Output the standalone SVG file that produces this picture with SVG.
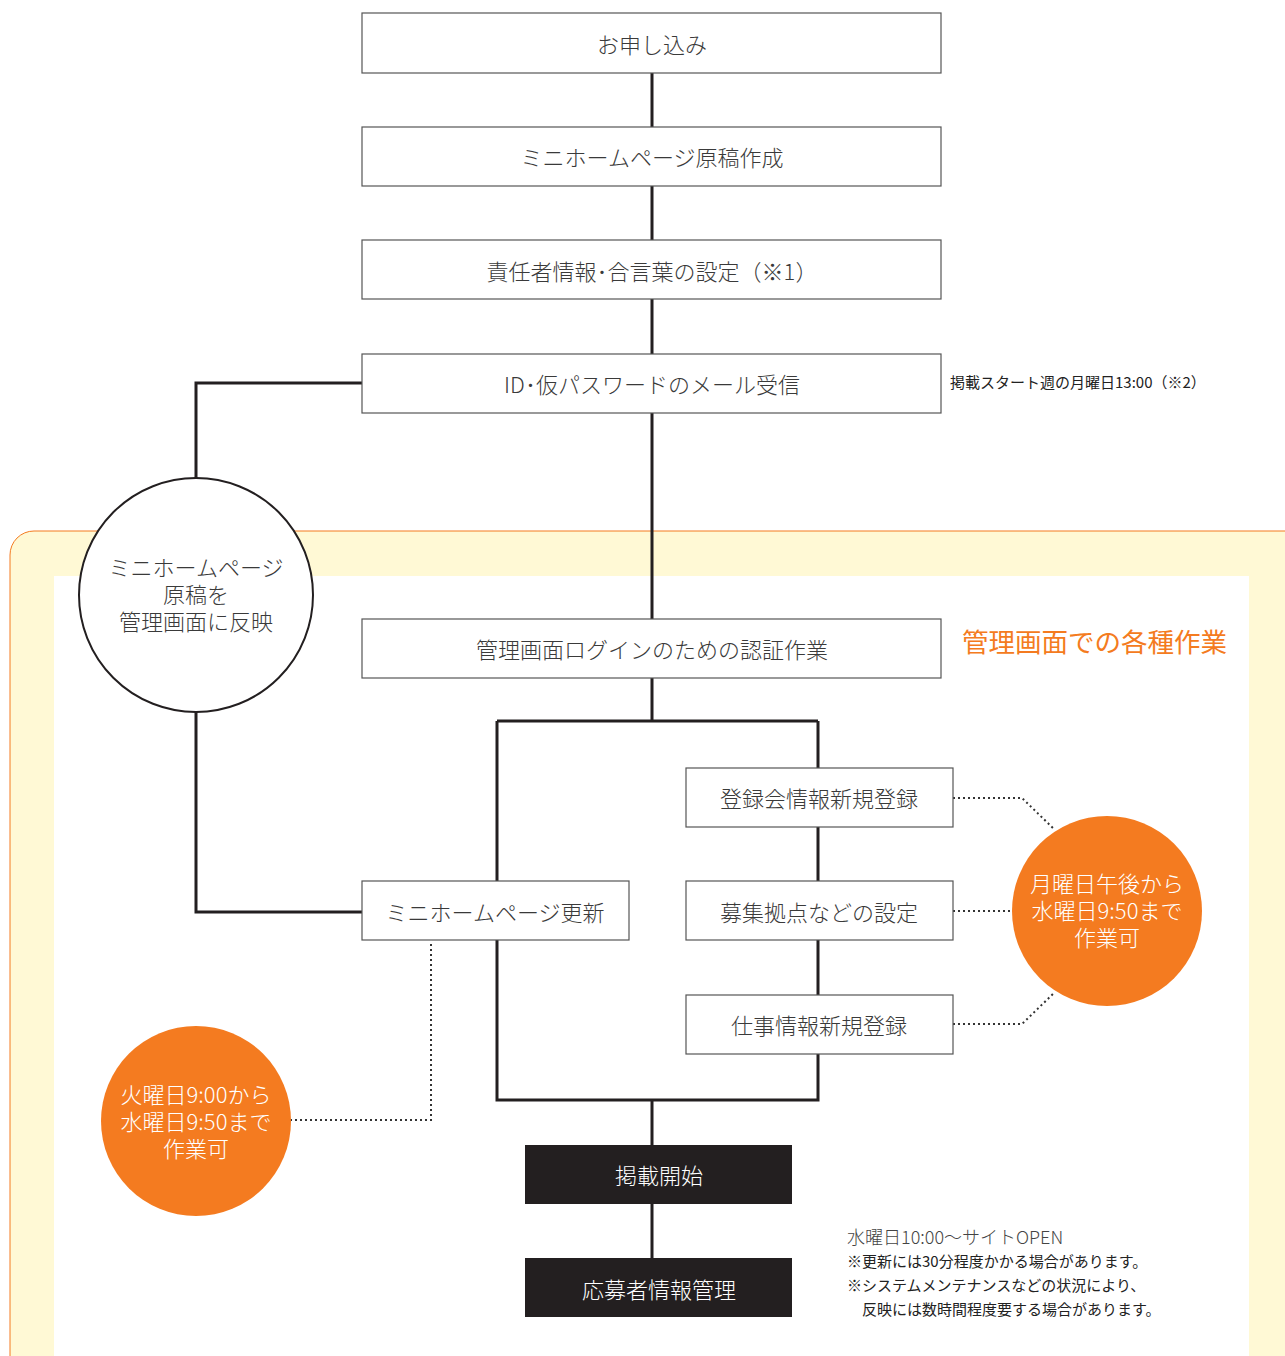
<svg xmlns="http://www.w3.org/2000/svg" width="1285" height="1356" viewBox="0 0 1285 1356">
<defs>
<style>
.box{fill:#fff;stroke:#555;stroke-width:1.2}
.dark{fill:#231f20}
.t{font-family:"Noto Sans CJK JP","Noto Sans",sans-serif;font-size:22px;fill:#3a3a3a;text-anchor:middle;dominant-baseline:central;font-weight:300}
.tw{font-family:"Noto Sans CJK JP","Noto Sans",sans-serif;font-size:22px;fill:#fff;text-anchor:middle;dominant-baseline:central;font-weight:300}
.ct{font-family:"Noto Sans CJK JP","Noto Sans",sans-serif;font-size:22px;fill:#fff;text-anchor:middle;font-weight:300}
.ctb{font-family:"Noto Sans CJK JP","Noto Sans",sans-serif;font-size:22px;fill:#3a3a3a;text-anchor:middle;font-weight:300}
.ln{fill:none;stroke:#231f20;stroke-width:3}
.dot{fill:none;stroke:#333;stroke-width:2;stroke-dasharray:2 3}
.note{font-family:"Noto Sans CJK JP","Noto Sans",sans-serif;font-size:15px;fill:#222}
</style>
</defs>
<rect width="1285" height="1356" fill="#fff"/>
<g id="background">
<rect x="10" y="531" width="1300" height="900" rx="24" fill="#fff9d5" stroke="#f47b20" stroke-width="1"/>
<rect x="54" y="576" width="1195" height="800" fill="#fff"/>
</g>
<g id="connectors">
<path class="ln" d="M652 73V127M652 186V240M652 299V354M652 413V619M652 678V721M497 721H818M497 721V1100H818V721M652 1100V1145M652 1204V1258"/>
<path class="ln" d="M362 383H196V478M196 712V912H362"/>
<path class="dot" d="M953 798H1022L1055 830M953 911H1013M953 1024H1022L1055 992M290 1120H431V941"/>
</g>
<g id="n1"><rect class="box" x="362" y="13" width="579" height="60"/><text class="t" x="652" y="43">お申し込み</text></g>
<g id="n2"><rect class="box" x="362" y="127" width="579" height="59"/><text class="t" x="652" y="156">ミニホームページ原稿作成</text></g>
<g id="n3"><rect class="box" x="362" y="240" width="579" height="59"/><text class="t" x="652" y="270">責任者情報･合言葉の設定（※1）</text></g>
<g id="n4"><rect class="box" x="362" y="354" width="579" height="59"/><text class="t" x="652" y="383">ID･仮パスワードのメール受信</text></g>
<g id="n4note"><text class="note" x="950" y="388">掲載スタート週の月曜日13:00（※2）</text></g>
<g id="n5"><circle cx="196" cy="595" r="117" fill="#fff" stroke="#231f20" stroke-width="2"/>
<text class="ctb" x="196" y="576"><tspan x="196" y="576">ミニホームページ</tspan><tspan x="196" dy="27">原稿を</tspan><tspan x="196" dy="27">管理画面に反映</tspan></text></g>
<g id="n6"><rect class="box" x="362" y="619" width="579" height="59"/><text class="t" x="652" y="648">管理画面ログインのための認証作業</text></g>
<g id="title"><text x="962" y="652" font-family="Noto Sans CJK JP,sans-serif" font-size="26.5" fill="#f47b20">管理画面での各種作業</text></g>
<g id="n7"><rect class="box" x="686" y="768" width="267" height="59"/><text class="t" x="819" y="797">登録会情報新規登録</text></g>
<g id="n8"><rect class="box" x="686" y="881" width="267" height="59"/><text class="t" x="819" y="911">募集拠点などの設定</text></g>
<g id="n9"><rect class="box" x="686" y="995" width="267" height="59"/><text class="t" x="819" y="1024">仕事情報新規登録</text></g>
<g id="n10"><rect class="box" x="362" y="881" width="267" height="59"/><text class="t" x="495" y="911">ミニホームページ更新</text></g>
<g id="n11"><circle cx="1107" cy="911" r="95" fill="#f47b20"/>
<text class="ct" x="1107" y="892"><tspan x="1107" y="892">月曜日午後から</tspan><tspan x="1107" dy="27">水曜日9:50まで</tspan><tspan x="1107" dy="27">作業可</tspan></text></g>
<g id="n12"><circle cx="196" cy="1121" r="95" fill="#f47b20"/>
<text class="ct" x="196" y="1103"><tspan x="196" y="1103">火曜日9:00から</tspan><tspan x="196" dy="27">水曜日9:50まで</tspan><tspan x="196" dy="27">作業可</tspan></text></g>
<g id="n13"><rect class="dark" x="525" y="1145" width="267" height="59"/><text class="tw" x="659" y="1174">掲載開始</text></g>
<g id="n14"><rect class="dark" x="525" y="1258" width="267" height="59"/><text class="tw" x="659" y="1288">応募者情報管理</text></g>
<g id="notes">
<text x="847" y="1244" font-family="Noto Sans CJK JP,sans-serif" font-size="18" font-weight="300" fill="#444">水曜日10:00～サイトOPEN</text>
<text class="note" x="847" y="1267">※更新には30分程度かかる場合があります。</text>
<text class="note" x="847" y="1291">※システムメンテナンスなどの状況により、</text>
<text class="note" x="862" y="1315">反映には数時間程度要する場合があります。</text>
</g>
</svg>
